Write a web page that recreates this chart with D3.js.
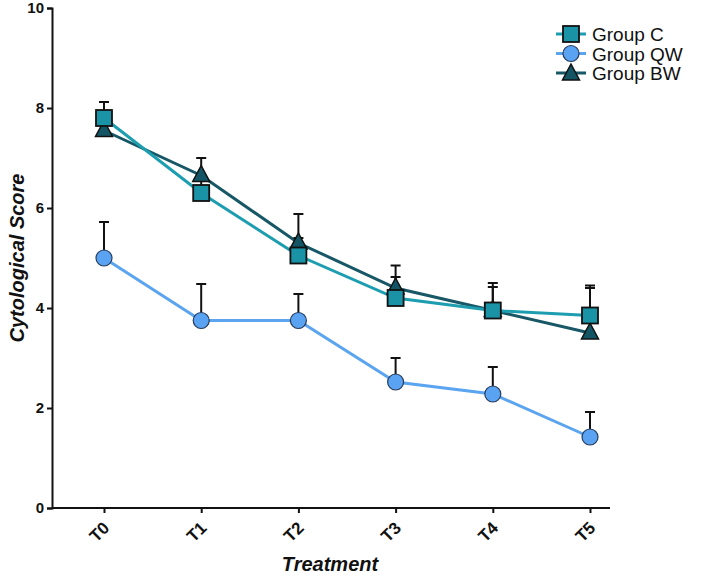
<!DOCTYPE html>
<html>
<head>
<meta charset="utf-8">
<script src="https://cdn.jsdelivr.net/npm/d3@7"></script>
<style>
  body { margin: 0; background: #fff; }
  text { font-family: "Liberation Sans", Arial, sans-serif; }
</style>
</head>
<body>
<div id="chart"></div>
<script>
const categories = ["T0", "T1", "T2", "T3", "T4", "T5"];
const groupC = [7.8, 6.3, 5.05, 4.2, 3.95, 3.85];
const groupCErr = [0.32, 0.3, 0.35, 0.42, 0.55, 0.6];
const groupQW = [5.0, 3.75, 3.75, 2.52, 2.28, 1.42];
const groupQWErr = [0.72, 0.73, 0.53, 0.48, 0.54, 0.5];
const groupBW = [7.55, 6.65, 5.3, 4.4, 3.95, 3.5];
const groupBWErr = [0.3, 0.35, 0.58, 0.45, 0.47, 0.9];
const yTicks = [0, 2, 4, 6, 8, 10];

const series = [
  { name: "Group BW", values: groupBW, err: groupBWErr, line: "#175766", fill: "#135564", stroke: "#111", shape: "triangle" },
  { name: "Group QW", values: groupQW, err: groupQWErr, line: "#5ba4ef", fill: "#5aa2f2", stroke: "#283c5a", shape: "circle" },
  { name: "Group C", values: groupC, err: groupCErr, line: "#1c9db0", fill: "#1a93a6", stroke: "#111", shape: "square" }
];

const width = 709, height = 576;
const margin = { top: 8, right: 99, bottom: 68, left: 52 };

const svg = d3.select("#chart").append("svg")
  .attr("width", width).attr("height", height);

const x = d3.scalePoint().domain(categories)
  .range([104, 590]);
const y = d3.scaleLinear().domain([0, 10])
  .range([height - margin.bottom, margin.top]);

// axes
const yAxis = svg.append("g")
  .attr("transform", `translate(${margin.left},0)`)
  .call(d3.axisLeft(y).tickValues(yTicks).tickSize(5).tickPadding(3));
const xAxis = svg.append("g")
  .attr("transform", `translate(0,${y(0)})`)
  .call(d3.axisBottom(x).tickSize(5).tickSizeOuter(0));

[yAxis, xAxis].forEach(g => {
  g.select(".domain").attr("stroke", "#111").attr("stroke-width", 2);
  g.selectAll(".tick line").attr("stroke", "#111").attr("stroke-width", 2);
  g.selectAll("text").attr("fill", "#111").attr("font-weight", "bold");
});
yAxis.selectAll("text").style("font-size", "15px");
xAxis.select(".domain").attr("d", `M${margin.left},0H610`);

xAxis.selectAll(".tick text")
  .style("font-size", "17px")
  .attr("text-anchor", "end")
  .attr("x", 0).attr("y", 0).attr("dx", 0).attr("dy", 0)
  .attr("transform", "translate(6,21) rotate(-45)");

// titles
svg.append("text")
  .attr("transform", `translate(24,${(y(0) + y(10)) / 2}) rotate(-90)`)
  .attr("text-anchor", "middle")
  .style("font-size", "20px").attr("font-weight", "bold").attr("font-style", "italic")
  .attr("fill", "#111")
  .text("Cytological Score");
svg.append("text")
  .attr("x", 330).attr("y", 571)
  .attr("text-anchor", "middle")
  .style("font-size", "20px").attr("font-weight", "bold").attr("font-style", "italic")
  .attr("fill", "#111")
  .text("Treatment");

function drawMarker(g, shape, cx, cy, s) {
  if (shape === "square") {
    return g.append("rect").attr("x", cx - 8).attr("y", cy - 8)
      .attr("width", 16).attr("height", 16)
      .attr("fill", s.fill).attr("stroke", s.stroke).attr("stroke-width", 1.8);
  } else if (shape === "circle") {
    return g.append("circle").attr("cx", cx).attr("cy", cy).attr("r", 8)
      .attr("fill", s.fill).attr("stroke", s.stroke).attr("stroke-width", 1.2);
  } else {
    return g.append("path")
      .attr("d", `M${cx},${cy - 10}L${cx + 8.5},${cy + 6}L${cx - 8.5},${cy + 6}Z`)
      .attr("fill", s.fill).attr("stroke", s.stroke).attr("stroke-width", 1.5)
      .attr("stroke-linejoin", "miter");
  }
}

const line = d3.line().x((d, i) => x(categories[i])).y(d => y(d));

// lines
series.forEach(s => {
  svg.append("path").datum(s.values)
    .attr("d", line).attr("fill", "none")
    .attr("stroke", s.line).attr("stroke-width", 3);
});

// error bars (upper only)
series.forEach(s => {
  const g = svg.append("g");
  s.values.forEach((v, i) => {
    const cx = x(categories[i]);
    const top = y(v + s.err[i]);
    g.append("line").attr("x1", cx).attr("x2", cx)
      .attr("y1", y(v)).attr("y2", top)
      .attr("stroke", "#111").attr("stroke-width", 2);
    g.append("line").attr("x1", cx - 5).attr("x2", cx + 5)
      .attr("y1", top).attr("y2", top)
      .attr("stroke", "#111").attr("stroke-width", 2);
  });
});

// markers
series.forEach(s => {
  const g = svg.append("g");
  s.values.forEach((v, i) => drawMarker(g, s.shape, x(categories[i]), y(v), s));
});

// legend
const legendOrder = ["Group C", "Group QW", "Group BW"];
legendOrder.forEach((name, i) => {
  const s = series.find(d => d.name === name);
  const ly = 34 + i * 19.5;
  const g = svg.append("g");
  g.append("line").attr("x1", 556).attr("x2", 586).attr("y1", ly).attr("y2", ly)
    .attr("stroke", s.line).attr("stroke-width", 3);
  drawMarker(g, s.shape, 571, ly + (s.shape === "triangle" ? 1 : 0), s);
  g.append("text").attr("x", 592).attr("y", ly + 7)
    .style("font-size", "19px").attr("fill", "#111").text(name);
});
</script>
</body>
</html>
